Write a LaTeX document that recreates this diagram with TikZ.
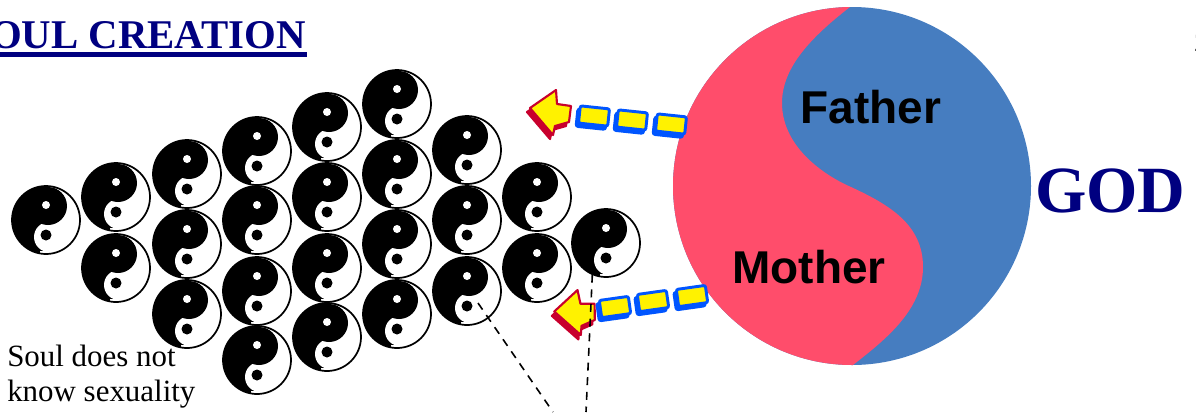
\documentclass[tikz,border=0pt]{standalone}
\usepackage{fontspec}
\setmainfont{Liberation Serif}
\newfontfamily\labelfont{Liberation Sans}
\usetikzlibrary{calc,positioning}

\definecolor{titleblue}{RGB}{0,0,128}
\definecolor{godred}{RGB}{255,77,107}
\definecolor{godblue}{RGB}{70,125,192}
\definecolor{chunkblue}{RGB}{0,85,255}
\definecolor{headred}{RGB}{200,0,45}

\tikzset{
  soul/.style={circle,draw=black,line width=1.3pt,minimum size=51pt,inner sep=0pt,
    path picture={
      \begin{scope}[shift={(path picture bounding box.center)}]
        \fill[black] (-36,-36) rectangle (1,31);
        \fill[black] (-36,31) rectangle (-6,36);
        \fill[white] (3,17) circle[radius=15];
        \fill[black] (2,-14) circle[radius=19];
        \fill[white] (0,-15) circle[radius=4];
        \fill[black] (0,15) circle[radius=5.5];
      \end{scope}}},
  chunk/.style={rectangle,rounded corners=1.5pt,fill=yellow,draw=chunkblue,line width=2.2pt,
    minimum width=22pt,minimum height=13pt,inner sep=0pt,
    preaction={draw=chunkblue,fill=chunkblue,transform canvas={xshift=-1.8pt,yshift=-2.4pt}}},
  dashline/.style={dashed,line width=1.2pt,dash pattern=on 6pt off 5pt},
  head/.pic={
    \path[fill=headred,draw=headred,line width=1.6pt,line join=round]
      (1,-1) -- (27,-19) -- (28,-5) -- (42,-3) -- (40,13) -- (26,17) -- (24,26) -- cycle;
    \path[fill=yellow,draw=headred,line width=1.6pt,line join=round]
      (4,-5) -- (30,-23) -- (31,-9) -- (45,-7) -- (43,9) -- (29,13) -- (27,22) -- cycle;
  }
}

\begin{document}
\begin{tikzpicture}[x=0.75pt,y=-0.75pt]
\useasboundingbox (0,0) rectangle (1196,412);

% title
\node[anchor=base east,inner sep=0pt,text=titleblue,font=\fontsize{30.6}{34}\selectfont\bfseries]
  (title) at (306,48) {SOUL CREATION};
\draw[titleblue,line width=3.5pt] ($(title.base west)+(0,6.5)$) -- ($(title.base east)+(1,6.5)$);

% page number
\node[anchor=base west,inner sep=0pt,font=\fontsize{19}{22}\selectfont] (page) at (1194,51) {2};

% god
\fill[godblue] (852,186) circle[radius=179];
\begin{scope}
  \clip (852,186) circle[radius=179];
  \fill[godred] (850,7) .. controls (810,38) and (782,68) .. (782,103)
    .. controls (782,150) and (830,178) .. (851,187)
    .. controls (890,205) and (923,225) .. (923,267)
    .. controls (923,310) and (885,340) .. (853,365)
    -- (660,365) -- (660,7) -- cycle;
\end{scope}
\node[anchor=base,inner sep=0pt,font=\labelfont\fontsize{34.5}{40}\selectfont\bfseries] (father) at (871,123) {Father};
\node[anchor=base,inner sep=0pt,font=\labelfont\fontsize{34.5}{40}\selectfont\bfseries] (mother) at (809,283) {Mother};
\node[anchor=base west,inner sep=0pt,text=titleblue,font=\fontsize{49.5}{54}\selectfont\bfseries] (god) at (1035,212) {GOD};

% souls
\foreach \n/\x/\y in {1/46/220,2/116/197,3/116/268,4/187/174,5/187/244,6/187/314,
    7/257/151,8/257/220,9/257/291,10/257/360,11/327/127,12/327/197,13/327/268,14/327/337,
    15/397/104,16/397/174,17/397/244,18/397/314,19/467/150,20/467/220,21/467/291,
    22/537/197,23/537/268,24/606/243}
  \node[soul] (s\n) at (\x,\y) {};

% upper arrow
\pic at (526,113) {head};
\foreach \n/\x/\y in {1/594/116,2/632/120,3/671/124}
  \node[chunk,rotate=-6] (a\n) at (\x,\y) {};

% lower arrow
\pic[rotate=8] at (551,317) {head};
\foreach \n/\x/\y in {1/615/307,2/653/301,3/692/296}
  \node[chunk,rotate=8] (b\n) at (\x,\y) {};

% text
\node[anchor=north west,inner sep=0pt,align=left,font=\fontsize{23.2}{26}\selectfont] (note) at (7,345)
  {Soul does not\\know sexuality};

% dashed lines
\coordinate (d1) at ($(s21)+(11,12)$);
\coordinate (d2) at ($(s24)+(-13,17)$);
\coordinate (e1) at (553,412);
\coordinate (e2) at (586,412);
\draw[dashline] (d1) -- (e1);
\draw[dashline] (d2) -- (e2);
\end{tikzpicture}
\end{document}
